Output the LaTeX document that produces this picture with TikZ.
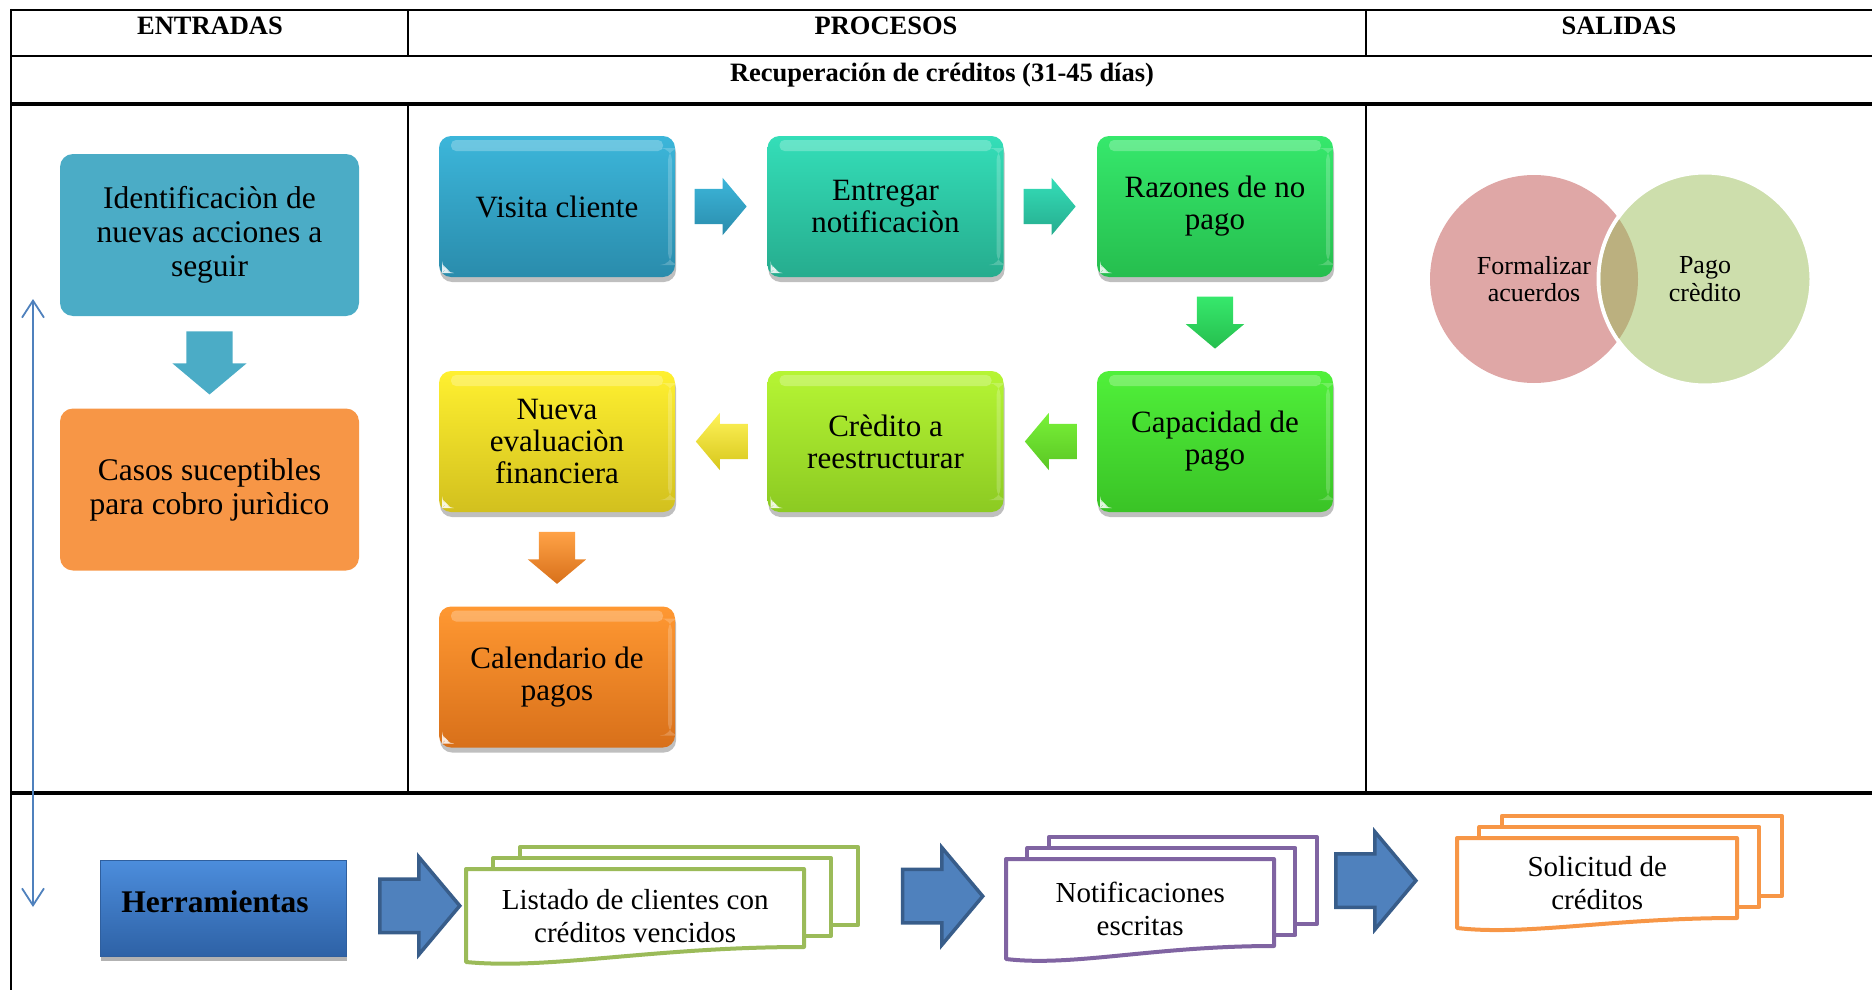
\documentclass[tikz,border=0pt]{standalone}
\usepackage{fontspec}
\setmainfont{Liberation Serif}
\usetikzlibrary{arrows.meta,shapes.arrows,shadows,calc}
\definecolor{spanblue}{RGB}{79,129,189}
\definecolor{identblue}{RGB}{75,172,198}
\definecolor{casosorange}{RGB}{247,150,70}
\definecolor{visitaT}{RGB}{60,182,218}
\definecolor{visitaB}{RGB}{42,140,172}
\definecolor{entregaT}{RGB}{52,222,184}
\definecolor{entregaB}{RGB}{38,172,142}
\definecolor{razonT}{RGB}{54,232,108}
\definecolor{razonB}{RGB}{38,190,78}
\definecolor{capacT}{RGB}{80,240,58}
\definecolor{capacB}{RGB}{58,195,38}
\definecolor{credT}{RGB}{182,245,52}
\definecolor{credB}{RGB}{140,202,34}
\definecolor{nuevaT}{RGB}{255,240,48}
\definecolor{nuevaB}{RGB}{210,192,30}
\definecolor{calendT}{RGB}{255,152,50}
\definecolor{calendB}{RGB}{216,112,26}
\definecolor{herrT}{RGB}{76,141,220}
\definecolor{herrB}{RGB}{46,98,166}
\definecolor{herrline}{RGB}{47,95,158}
\definecolor{bigfill}{RGB}{79,129,189}
\definecolor{bigline}{RGB}{56,93,138}
\definecolor{docgreen}{RGB}{155,187,89}
\definecolor{docpurple}{RGB}{128,100,162}
\definecolor{docorange}{RGB}{247,150,70}
\definecolor{vennred}{RGB}{223,167,166}
\definecolor{venngreen}{RGB}{205,222,172}
\definecolor{vennmix}{RGB}{187,176,127}

\tikzset{
  hdr/.style={font=\fontsize{26.5}{30}\selectfont\bfseries},
  flatbox/.style={fill=#1, rounded corners=13pt, minimum width=299pt, minimum height=162pt,
    align=center, inner sep=0pt, font=\fontsize{31.5}{34}\selectfont},
  % shaft width of a block arrow comes from the inner sep across it,
  % the shift puts the middle of the arrow (not its text box) on the path
  rightward/.style={inner xsep=0pt, inner ysep=#1, xshift=-8pt},
  downward/.style={shape border rotate=270, inner xsep=#1, inner ysep=0pt, yshift=9pt},
  leftward/.style={shape border rotate=180, inner xsep=0pt, inner ysep=#1, xshift=8pt},
  flatarrow/.style={single arrow, downward=23pt, fill=identblue, minimum height=63pt,
    minimum width=74pt, single arrow head extend=14pt, single arrow tip angle=100},
  procbox/.style 2 args={top color=#1, bottom color=#2, rounded corners=12pt,
    minimum width=236pt, minimum height=141pt, align=center, inner sep=0pt,
    font=\fontsize{31}{32}\selectfont,
    drop shadow={shadow xshift=1pt, shadow yshift=-5pt, opacity=.25, fill=black},
    path picture={
      \fill[white, opacity=.25, rounded corners=5pt]
        ([xshift=12pt,yshift=-4pt]path picture bounding box.north west) rectangle
        ([xshift=-12pt,yshift=-15pt]path picture bounding box.north east);
      \fill[white, opacity=.2]
        ([xshift=-7pt,yshift=-12pt]path picture bounding box.north east) rectangle
        ([xshift=-3pt,yshift=12pt]path picture bounding box.south east);
      \fill[white, opacity=.85]
        ([xshift=3pt,yshift=4pt]path picture bounding box.south west) -- ++(9pt,0pt) -- ++(-9pt,9pt) -- cycle;
    }},
  procarrow/.style 2 args={single arrow, top color=#1, bottom color=#2,
    minimum height=52pt, minimum width=57pt, single arrow head extend=11pt,
    single arrow tip angle=100},
  herrbox/.style={top color=herrT, bottom color=herrB, draw=herrline, line width=.8pt,
    minimum width=246pt, minimum height=96pt, inner sep=0pt,
    drop shadow={shadow xshift=1pt, shadow yshift=-5pt, opacity=.3, fill=black}},
  herrtext/.style={font=\fontsize{31.5}{34}\selectfont\bfseries, inner sep=0pt},
  bigarrow/.style={single arrow, rightward=25pt, xshift=-4pt, fill=bigfill, draw=bigline,
    line width=3.5pt, line join=miter, minimum height=80pt, minimum width=94pt,
    single arrow head extend=22pt, single arrow tip angle=100},
  docpage/.style={draw=#1, fill=white, line width=4pt, line join=round},
  doctext/.style={align=center, inner sep=0pt, font=\fontsize{29}{33}\selectfont},
  venntext/.style={align=center, inner sep=0pt, font=\fontsize{26}{27.5}\selectfont},
  spanline/.style={{Straight Barb[length=17pt,width=22pt]}-{Straight Barb[length=17pt,width=22pt]},
    draw=spanblue, line width=1.8pt},
}
\newcommand{\spot}[2]{\coordinate (#1) at (#2);}
\newcommand{\docstack}[8]{%
  \begin{scope}[shift={(#3,#4)}, docpage=#2]
    \filldraw (0.16*#5,-22) rectangle ++(#5,#6);
    \filldraw (0.08*#5,-11) rectangle ++(#5,#6);
    \filldraw (0,0) -- (#5,0) -- (#5,#6) .. controls (0.55*#5,#6) and (0.25*#5,#7+8) .. (0,#7) -- cycle;
  \end{scope}
  \node[doctext, minimum width=#5pt, minimum height=#7pt, anchor=north west] (#1) at (#3,#4) {#8};
}

\begin{document}
\begin{tikzpicture}[x=1pt, y=-1pt]
  \useasboundingbox (0,0) rectangle (1872,990);

  % table
  \draw[line width=2.4pt] (11,10) -- (1872,10);
  \draw[line width=1.2pt] (11,56) -- (1872,56);
  \draw[line width=3.6pt] (11,104) -- (1872,104);
  \draw[line width=3.6pt] (11,793) -- (1872,793);
  \draw[line width=2pt] (11,9) -- (11,990);
  \draw[line width=1.2pt] (408,10) -- (408,56) (1366,10) -- (1366,56)
    (408,104) -- (408,793) (1366,104) -- (1366,793);

  \node[hdr] (entradas) at (210,26) {ENTRADAS};
  \node[hdr] (procesos) at (886,26) {PROCESOS};
  \node[hdr] (salidas) at (1619,26) {SALIDAS};
  \node[hdr] (titulo) at (942,75) {Recuperación de créditos (31-45 días)};

  % entradas
  \node[flatbox=identblue] (ident) at (209.5,235) {Identificaciòn de\\nuevas acciones a\\seguir};
  \node[flatbox=casosorange] (casos) at (209.5,489.5) {Casos suceptibles\\para cobro jurìdico};
  \path (ident.south) -- (casos.north) node[midway, flatarrow] {};

  \spot{upend}{33,299}
  \spot{lowend}{33,907}
  \draw[spanline] (upend) -- (lowend);

  % procesos
  \node[procbox={visitaT}{visitaB}] (visita) at (557,206.5) {Visita cliente};
  \node[procbox={entregaT}{entregaB}] (entregar) at (885.5,206.5) {Entregar\\notificaciòn};
  \node[procbox={razonT}{razonB}] (razones) at (1215,206.5) {Razones de no\\pago};
  \node[procbox={capacT}{capacB}] (capacidad) at (1215,441.5) {Capacidad de\\pago};
  \node[procbox={credT}{credB}] (credito) at (885.5,441.5) {Crèdito a\\reestructurar};
  \node[procbox={nuevaT}{nuevaB}] (nueva) at (557,441.5) {Nueva\\evaluaciòn\\financiera};
  \node[procbox={calendT}{calendB}] (calendario) at (557,677) {Calendario de\\pagos};

  \path (visita.east) -- (entregar.west) node[midway, procarrow={visitaT}{visitaB}, rightward=17.5pt] {};
  \path (entregar.east) -- (razones.west) node[midway, procarrow={entregaT}{entregaB}, rightward=17.5pt] {};
  \path (razones.south) -- (capacidad.north) node[midway, procarrow={razonT}{razonB}, downward=18pt] {};
  \path (capacidad.west) -- (credito.east) node[midway, procarrow={capacT!60!credT}{capacB!60!credB}, leftward=17.5pt] {};
  \path (credito.west) -- (nueva.east) node[midway, procarrow={nuevaT!80!white}{nuevaB!90!yellow}, leftward=17.5pt] {};
  \path (nueva.south) -- (calendario.north) node[midway, procarrow={calendT!90!white}{calendB}, downward=18pt] {};

  % salidas
  \node[circle, fill=vennred, minimum size=208pt, inner sep=0pt] (formal) at (1534,279) {};
  \node[circle, fill=venngreen, draw=white, line width=4pt, minimum size=213pt, inner sep=0pt] (pago) at (1705,279) {};
  \begin{scope}
    \clip (formal.center) circle (104pt);
    \fill[vennmix] (pago.center) circle (104.5pt);
  \end{scope}
  \node[venntext] at (formal) {Formalizar\\acuerdos};
  \node[venntext] at (pago) {Pago\\crèdito};

  % herramientas
  \node[herrbox] (herr) at (223,908) {};
  \node[herrtext] (herrlabel) at (215,902) {Herramientas};
  \docstack{listado}{docgreen}{466}{869}{338}{78}{93}{Listado de clientes con\\créditos vencidos}
  \docstack{notif}{docpurple}{1006}{859}{268}{87}{100}{Notificaciones\\escritas}
  \docstack{solicitud}{docorange}{1457}{838}{280}{80}{90}{Solicitud de\\créditos}

  \path (herr.east) -- (listado.west) node[pos=.62, yshift=7pt, bigarrow] {};
  \path (listado.east) -- (notif.west) node[pos=.69, yshift=15pt, bigarrow] {};
  \path (notif.east) -- (solicitud.west) node[pos=.56, yshift=14pt, bigarrow] {};
\end{tikzpicture}
\end{document}
